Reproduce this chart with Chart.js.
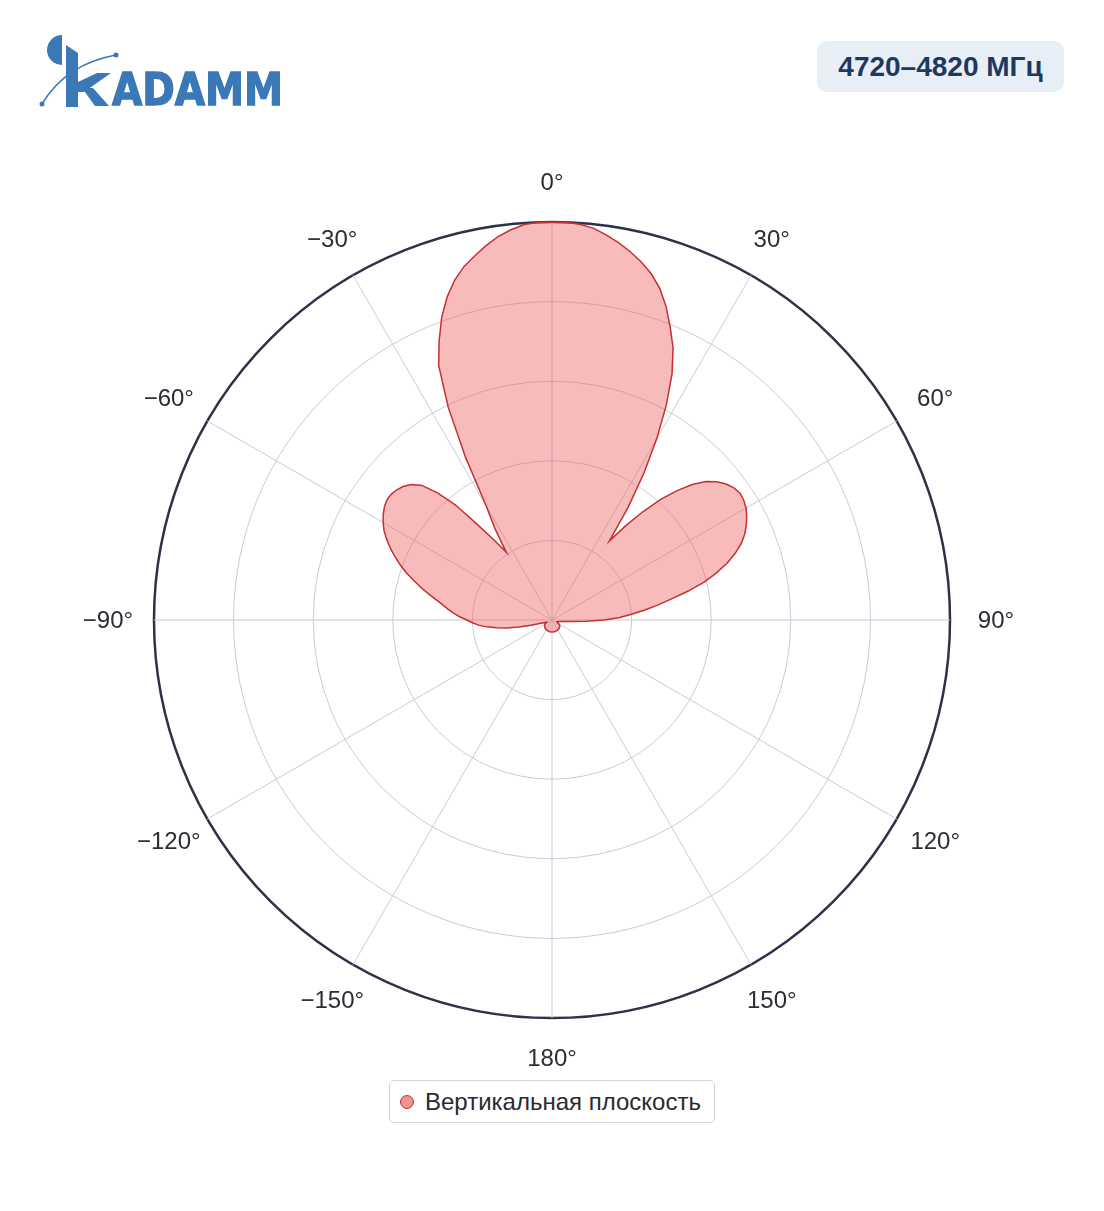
<!DOCTYPE html>
<html>
<head>
<meta charset="utf-8">
<script src="https://cdn.jsdelivr.net/npm/chart.js@4.4.1/dist/chart.umd.min.js"></script>
<style>
html,body{margin:0;padding:0;background:#fff;}
#wrap{position:relative;width:1104px;height:1211px;overflow:hidden;font-family:"Liberation Sans",Arial,sans-serif;}
#c{position:absolute;left:0;top:0;}
#badge{position:absolute;left:817px;top:41px;width:247px;height:51px;background:#e8eef6;border-radius:10px;display:flex;align-items:center;justify-content:center;font-weight:bold;font-size:28px;color:#1e395e;}
#legend{position:absolute;left:389px;top:1080px;width:326px;height:43px;border:1px solid #d4d4d8;border-radius:5px;box-sizing:border-box;display:flex;align-items:center;font-size:24px;color:#2a2a2e;background:#fff;}
#legend .mk{width:14px;height:14px;border-radius:50%;margin-left:10px;margin-right:11px;box-sizing:border-box;flex:none;}
#logo{position:absolute;left:0;top:0;}
</style>
</head>
<body>
<div id="wrap">
  <canvas id="c" width="1104" height="1211"></canvas>
  <svg id="logo" width="300" height="120" viewBox="0 0 300 120">
    <g fill="#3b78b8">
      <path d="M62,35 A15,15 0 0 0 62,65 Z"/>
      <polygon points="66,45 78,53 78,107 66,107"/>
      <polygon points="78,82 97,73 111,73 84,92 78,92"/>
      <polygon points="82,88 93,88 109,106 95,106"/>
      <text x="112" y="105" font-family="DejaVu Sans" font-weight="bold" font-size="44" textLength="171" lengthAdjust="spacingAndGlyphs" stroke="#3b78b8" stroke-width="1.4">ADAMM</text>
    </g>
    <path d="M42,104 Q66,64 116,55" stroke="#3b78b8" stroke-width="1.6" fill="none"/>
    <circle cx="42" cy="104" r="2.5" fill="#3b78b8"/>
    <circle cx="116" cy="55" r="2.5" fill="#3b78b8"/>
  </svg>
  <div id="badge"></div>
  <div id="legend"></div>
</div>
<script>
// ---- data ----
const bandLabel = '4720–4820 МГц';
const seriesName = 'Вертикальная плоскость';

// angle of each sample, degrees, clockwise from 0° at the top
const angleDeg = [
  0,2,4,6,8,10,12,14,16,18,20,22,24,26,28,30,32,34,36,38,40,42,44,46,48,50,
  52,54,56,58,60,62,64,66,68,70,72,74,76,78,80,82,84,86,88,90,92,94,96,98,100,
  102,104,106,108,110,112,114,116,118,120,122,124,126,128,130,132,134,136,138,140,
  142,144,146,148,150,152,154,156,158,160,162,164,166,168,170,172,174,176,178,180,
  -178,-176,-174,-172,-170,-168,-166,-164,-162,-160,-158,-156,-154,-152,-150,
  -148,-146,-144,-142,-140,-138,-136,-134,-132,-130,-128,-126,-124,-122,-120,
  -118,-116,-114,-112,-110,-108,-106,-104,-102,-100,-98,-96,-94,-92,-90,
  -88,-86,-84,-82,-80,-78,-76,-74,-72,-70,-68,-66,-64,-62,-60,
  -58,-56,-54,-52,-50,-48,-46,-44,-42,-40,-38,-36,-34,-32,-30,
  -28,-26,-24,-22,-20,-18,-16,-14,-12,-10,-8,-6,-4,-2
];

// normalised pattern level (same order as angleDeg)
const gainVertical = [
  1.000,1.000,0.997,0.990,0.977,0.963,0.946,0.927,0.905,0.876,0.838,0.793,0.748,0.688,0.612,0.527,0.437,0.343,0.245,0.300,0.355,0.408,0.452,0.490,0.520,0.540,
  0.555,0.565,0.570,0.568,0.563,0.554,0.543,0.530,0.513,0.490,0.463,0.430,0.395,0.350,0.305,0.268,0.233,0.198,0.168,0.130,0.085,0.052,0.036,0.027,0.022,
  0.019,0.017,0.015,0.014,0.013,0.013,0.014,0.016,0.018,0.020,0.021,0.023,0.024,0.025,0.025,0.026,0.026,0.027,0.027,0.027,
  0.028,0.028,0.028,0.028,0.029,0.029,0.029,0.029,0.029,0.029,0.030,0.030,0.030,0.030,0.030,0.030,0.030,0.030,0.030,0.030,
  0.030,0.030,0.030,0.030,0.030,0.030,0.030,0.030,0.029,0.029,0.029,0.029,0.029,0.028,0.028,
  0.028,0.028,0.027,0.027,0.027,0.026,0.026,0.025,0.025,0.024,0.024,0.023,0.022,0.021,0.020,
  0.018,0.016,0.014,0.014,0.016,0.022,0.032,0.055,0.085,0.115,0.140,0.165,0.185,0.200,0.214,
  0.232,0.248,0.263,0.278,0.297,0.318,0.340,0.362,0.385,0.406,0.426,0.445,0.462,0.478,0.490,
  0.500,0.508,0.513,0.513,0.509,0.502,0.490,0.470,0.430,0.378,0.304,0.250,0.205,0.270,0.330,
  0.462,0.595,0.700,0.757,0.810,0.853,0.888,0.915,0.935,0.955,0.973,0.986,0.996,1.000
];

// angular tick labels shown around the plot
const angleTicks = [0,30,60,90,120,150,180,-150,-120,-90,-60,-30];
// radial rings
const radialTicks = [0.2,0.4,0.6,0.8,1.0];

// ---- styling ----
const lineColor = '#c53030';
const fillColor = 'rgba(239,92,92,0.42)';
const gridColor = '#c9cbd9';
const outerColor = '#2e3249';
const tickFont = '24px "Liberation Sans", Arial, sans-serif';

function fmtAngle(a){ return (a < 0 ? '\u2212' + Math.abs(a) : String(a)) + '\u00B0'; }

const angleLabelPlugin = {
  id: 'angleLabelPlugin',
  afterDraw(chart){
    const s = chart.scales.r;
    const ctx = chart.ctx;
    ctx.save();
    ctx.font = tickFont;
    ctx.fillStyle = '#2a2c36';
    ctx.textAlign = 'center';
    ctx.textBaseline = 'middle';
    chart.data.labels.forEach((lab, i) => {
      if (!angleTicks.includes(lab)) return;
      const sn = Math.sin(lab * Math.PI / 180);
      const p = s.getPointPosition(i, s.drawingArea + 40 + 6 * sn * sn);
      ctx.fillText(fmtAngle(lab), p.x, p.y + 1);
    });
    ctx.restore();
  }
};

const chart = new Chart(document.getElementById('c'), {
  type: 'radar',
  data: {
    labels: angleDeg,
    datasets: [{
      label: seriesName,
      data: gainVertical,
      borderColor: lineColor,
      backgroundColor: fillColor,
      borderWidth: 1.5,
      fill: true,
      pointRadius: 0,
      pointHoverRadius: 0,
      tension: 0
    }]
  },
  options: {
    responsive: false,
    animation: false,
    layout: { padding: { left: 154, right: 154, top: 222, bottom: 193 } },
    plugins: { legend: { display: false }, tooltip: { enabled: false } },
    scales: {
      r: {
        min: 0,
        max: 1,
        afterBuildTicks(scale){ scale.ticks = [0].concat(radialTicks).map(v => ({value: v})); },
        ticks: { display: false },
        grid: {
          circular: true,
          color: c => (c.tick && c.tick.value > 0.999) ? outerColor : gridColor,
          lineWidth: c => (c.tick && c.tick.value > 0.999) ? 2.5 : 1
        },
        angleLines: {
          display: true,
          color: gridColor,
          lineWidth: c => angleTicks.includes(angleDeg[c.index]) ? 1 : 0
        },
        pointLabels: { display: false }
      }
    }
  },
  plugins: [angleLabelPlugin]
});

// badge and legend
document.getElementById('badge').textContent = bandLabel;
const lg = document.getElementById('legend');
chart.data.datasets.forEach(ds => {
  const mk = document.createElement('span');
  mk.className = 'mk';
  mk.style.background = 'rgba(235,110,110,0.75)';
  mk.style.border = '1px solid ' + ds.borderColor;
  const tx = document.createElement('span');
  tx.textContent = ds.label;
  lg.appendChild(mk);
  lg.appendChild(tx);
});
</script>
</body>
</html>
